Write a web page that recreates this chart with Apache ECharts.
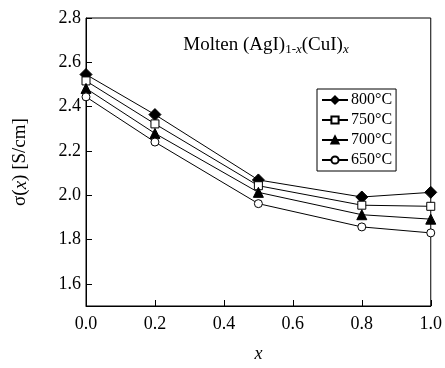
<!DOCTYPE html>
<html>
<head>
<meta charset="utf-8">
<script src="https://cdn.jsdelivr.net/npm/echarts@6/dist/echarts.min.js"></script>
<style>
  html, body { margin: 0; padding: 0; background: #fff; }
  #main { width: 445px; height: 368px; }
</style>
</head>
<body>
<div id="main"></div>
<script>
// composition x of (AgI)1-x(CuI)x
var xValues = [0.0, 0.2, 0.5, 0.8, 1.0];
// conductivity in S/cm
var s800 = [2.545, 2.364, 2.069, 1.992, 2.013];
var s750 = [2.516, 2.322, 2.043, 1.955, 1.950];
var s700 = [2.482, 2.279, 2.013, 1.912, 1.892];
var s650 = [2.444, 2.240, 1.962, 1.857, 1.830];
var yTicks = [1.6, 1.8, 2.0, 2.2, 2.4, 2.6, 2.8];
var xTicks = [0.0, 0.2, 0.4, 0.6, 0.8, 1.0];

var serif = '"Liberation Serif", "DejaVu Serif", serif';
var myChart = echarts.init(document.getElementById('main'));

function pairs(ys) {
  return xValues.map(function (x, i) { return [x, ys[i]]; });
}

function mkSeries(name, ys, symbol, size, filled) {
  return {
    name: name,
    type: 'line',
    data: pairs(ys),
    symbol: symbol,
    symbolSize: size,
    showAllSymbol: true,
    lineStyle: { color: '#000', width: 1 },
    itemStyle: {
      color: filled ? '#000' : '#fff',
      borderColor: '#000',
      borderWidth: 1
    },
    emphasis: { disabled: true }
  };
}

var option = {
  animation: false,
  backgroundColor: '#fff',
  textStyle: { fontFamily: serif, color: '#000' },
  title: {
    text: 'Molten (AgI){sub|1-}{subi|x}(CuI){subi|x}',
    left: 261,
    top: 29,
    textAlign: 'center',
    textStyle: {
      fontFamily: serif, fontSize: 19, fontWeight: 'normal', color: '#000',
      rich: {
        sub: { fontFamily: serif, fontSize: 13, color: '#000', verticalAlign: 'bottom', padding: [9, 0, 0, 0] },
        subi: { fontFamily: serif, fontSize: 13, fontStyle: 'italic', color: '#000', verticalAlign: 'bottom', padding: [9, 0, 0, 0] }
      }
    }
  },
  legend: {
    orient: 'vertical',
    left: 317,
    top: 89,
    itemWidth: 26,
    itemHeight: 9,
    itemGap: 4,
    padding: [3, 4, 3, 4],
    borderColor: '#000',
    borderWidth: 1,
    borderRadius: 0,
    backgroundColor: '#fff',
    textStyle: { fontFamily: serif, fontSize: 16, color: '#000', padding: [0, 0, 0, -2] },
    data: ['800°C', '750°C', '700°C', '650°C']
  },
  grid: {
    left: 86, right: 13, top: 18, bottom: 59,
    show: true, borderColor: '#000', borderWidth: 1, backgroundColor: 'transparent'
  },
  xAxis: {
    type: 'value',
    min: 0, max: 1, interval: 0.2,
    name: '{i|x}',
    nameLocation: 'middle',
    nameGap: 39,
    nameTextStyle: { rich: { i: { fontFamily: serif, fontSize: 18, fontStyle: 'italic', color: '#000' } } },
    axisLine: { lineStyle: { color: '#000' } },
    axisTick: { inside: true, length: 6, lineStyle: { color: '#000' } },
    axisLabel: {
      fontFamily: serif, fontSize: 18, color: '#000', margin: 9,
      customValues: xTicks,
      formatter: function (v) { return v.toFixed(1); }
    },
    splitLine: { show: false }
  },
  yAxis: {
    type: 'value',
    min: 1.5, max: 2.8,
    name: '{g|σ(}{i|x}{g|) [S/cm]}',
    nameLocation: 'middle',
    nameGap: 56,
    nameTextStyle: {
      rich: {
        g: { fontFamily: serif, fontSize: 19, color: '#000' },
        i: { fontFamily: serif, fontSize: 19, fontStyle: 'italic', color: '#000' }
      }
    },
    axisLine: { show: true, lineStyle: { color: '#000' } },
    axisTick: { inside: true, length: 6, customValues: yTicks, lineStyle: { color: '#000' } },
    axisLabel: {
      fontFamily: serif, fontSize: 18, color: '#000', margin: 5,
      customValues: yTicks,
      formatter: function (v) { return v.toFixed(1); }
    },
    splitLine: { show: false }
  },
  series: [
    mkSeries('800°C', s800, 'diamond', 12, true),
    mkSeries('750°C', s750, 'rect', 8, false),
    mkSeries('700°C', s700, 'triangle', 10, true),
    mkSeries('650°C', s650, 'circle', 8, false)
  ]
};

myChart.setOption(option);
</script>
</body>
</html>
